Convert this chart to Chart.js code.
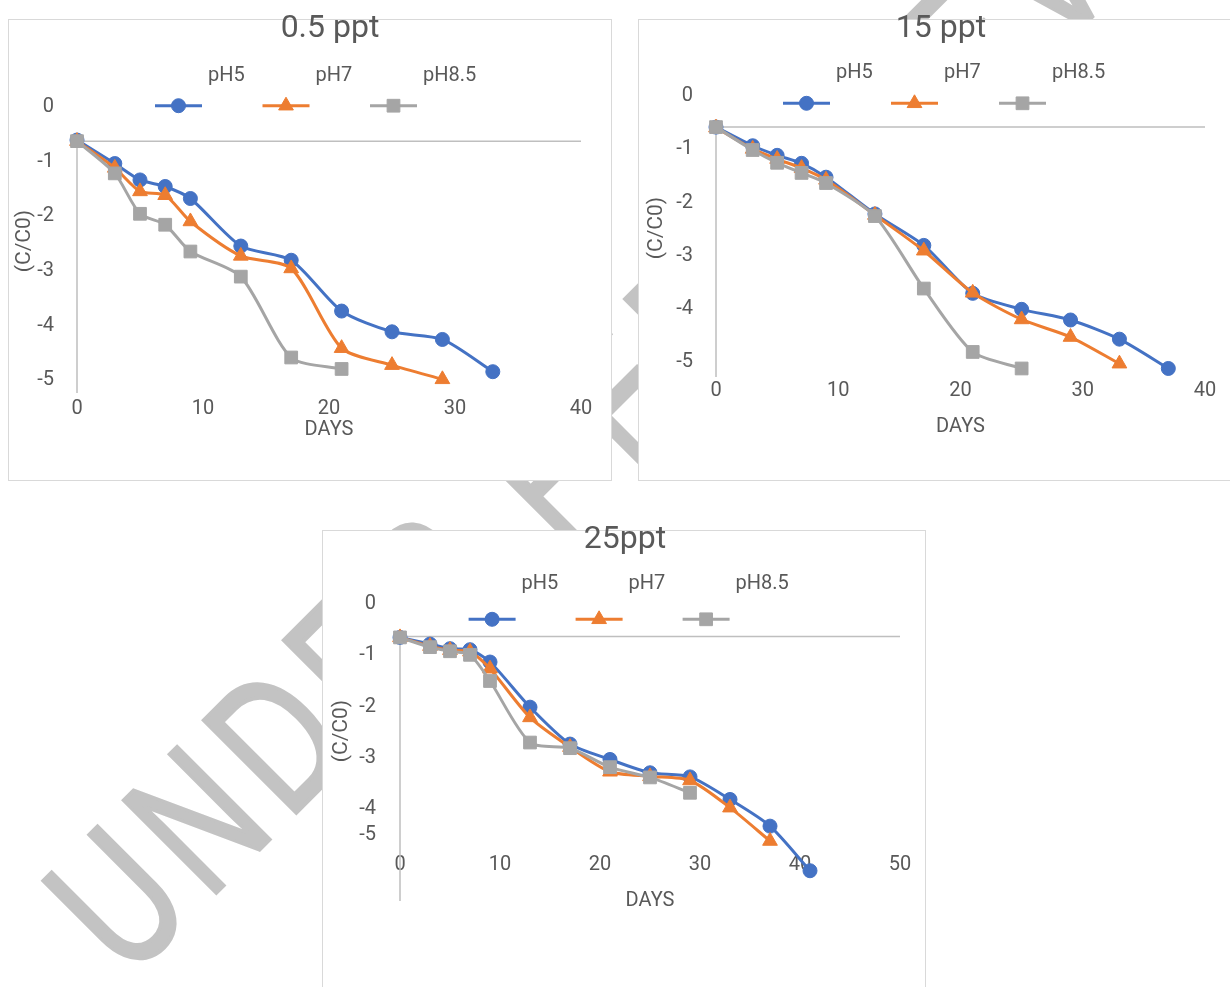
<!DOCTYPE html>
<html>
<head>
<meta charset="utf-8">
<script src="https://cdn.jsdelivr.net/npm/chart.js"></script>
<style>
  html, body { margin: 0; padding: 0; background: #fff; }
  body { width: 1230px; height: 987px; overflow: hidden; position: relative; }
  .wm {
    position: absolute; left: 128px; top: 820px;
    font: 400 190px "Liberation Sans", sans-serif; line-height: 1;
    color: #C3C3C3; -webkit-text-stroke: 4px #C3C3C3;
    white-space: nowrap; letter-spacing: 20px;
    transform-origin: 0 161px; transform: rotate(-45deg) scaleX(0.72);
  }
  .cv { position: absolute; }
</style>
</head>
<body>
<div class="wm">UNDER PEER REVIEW</div>
<div class="cv" style="left:0;top:0;width:620px;height:490px"><canvas id="c05"></canvas></div>
<div class="cv" style="left:630px;top:0;width:600px;height:490px"><canvas id="c15"></canvas></div>
<div class="cv" style="left:314px;top:511px;width:620px;height:476px"><canvas id="c25"></canvas></div>
<script>
// sampling days, shared by every series (series i uses days[0..n-1])
var days = [0, 3, 5, 7, 9, 13, 17, 21, 25, 29, 33, 37, 41];
var seriesNames = ['pH5', 'pH7', 'pH8.5'];

// 0.5 ppt
var ppt05_pH5  = [-0.66, -1.09, -1.39, -1.51, -1.73, -2.60, -2.86, -3.79, -4.17, -4.31, -4.90];
var ppt05_pH7  = [-0.68, -1.17, -1.60, -1.67, -2.15, -2.78, -3.01, -4.47, -4.78, -5.04];
var ppt05_pH85 = [-0.68, -1.27, -2.01, -2.21, -2.70, -3.16, -4.64, -4.85];

// 15 ppt
var ppt15_pH5  = [-0.64, -0.99, -1.17, -1.32, -1.58, -2.27, -2.86, -3.76, -4.06, -4.26, -4.62, -5.17];
var ppt15_pH7  = [-0.65, -1.05, -1.24, -1.41, -1.63, -2.29, -2.96, -3.75, -4.25, -4.58, -5.08];
var ppt15_pH85 = [-0.64, -1.07, -1.31, -1.50, -1.69, -2.31, -3.67, -4.86, -5.17];

// 25 ppt
var ppt25_pH5  = [-0.71, -0.84, -0.93, -0.95, -1.19, -2.07, -2.79, -3.09, -3.35, -3.43, -3.87, -4.39, -5.26];
var ppt25_pH7  = [-0.71, -0.88, -0.96, -0.99, -1.32, -2.27, -2.85, -3.33, -3.42, -3.50, -4.03, -4.68];
var ppt25_pH85 = [-0.71, -0.90, -0.98, -1.05, -1.56, -2.76, -2.87, -3.24, -3.44, -3.74];

var xTicks40 = [0, 10, 20, 30, 40];
var xTicks50 = [0, 10, 20, 30, 40, 50];
var yTicks = [0, -1, -2, -3, -4, -5];
var yTickLabels = ['0', '-1', '-2', '-3', '-4', '-5'];
// in the 25ppt panel the "-5" label sits squeezed up above the day labels
var yTicks25 = [0, -1, -2, -3, -4, -4.5];

var FONT = 'Roboto, "Liberation Sans", sans-serif';
var TEXT = '#595959';
var AXIS = '#BFBFBF';
var colors = ['#4472C4', '#ED7D31', '#A5A5A5'];
var markers = [
  { style: 'circle', r: 7 },
  { style: 'triangle', r: 8.5 },
  { style: 'rect', r: 9 }
];

function drawMarker(ctx, style, x, y, r, color) {
  ctx.fillStyle = color;
  ctx.strokeStyle = color;
  ctx.lineWidth = 1;
  ctx.beginPath();
  if (style === 'circle') {
    ctx.arc(x, y, r, 0, Math.PI * 2);
  } else if (style === 'triangle') {
    ctx.moveTo(x, y - r);
    ctx.lineTo(x + r * 0.866, y + r * 0.5);
    ctx.lineTo(x - r * 0.866, y + r * 0.5);
    ctx.closePath();
  } else {
    var s = r * Math.SQRT1_2;
    ctx.rect(x - s, y - s, 2 * s, 2 * s);
  }
  ctx.fill();
  ctx.stroke();
}

function makeChart(id, c) {
  var datasets = c.series.map(function (vals, i) {
    return {
      label: seriesNames[i],
      data: vals.map(function (v, k) { return { x: days[k], y: v }; }),
      borderColor: colors[i],
      backgroundColor: colors[i],
      borderWidth: 3,
      tension: 0.25,
      pointStyle: markers[i].style,
      pointRadius: markers[i].r,
      pointHoverRadius: markers[i].r,
      pointBorderWidth: 1,
      clip: false,
      order: 2 - i
    };
  });

  var frame = {
    id: 'frame',
    beforeDraw: function (chart) {
      var ctx = chart.ctx, b = c.box;
      ctx.save();
      ctx.fillStyle = '#fff';
      ctx.fillRect(b[0], b[1], b[2], b[3]);
      ctx.strokeStyle = '#D9D9D9';
      ctx.lineWidth = 1;
      ctx.strokeRect(b[0] + 0.5, b[1] + 0.5, b[2], b[3]);
      ctx.restore();
    },
    beforeDatasetsDraw: function (chart) {
      // horizontal axis crosses at c.crossY, vertical axis at day 0
      var ctx = chart.ctx, xs = chart.scales.x, ys = chart.scales.y;
      var yc = ys.getPixelForValue(c.crossY);
      var x0 = xs.getPixelForValue(0);
      ctx.save();
      ctx.strokeStyle = AXIS;
      ctx.lineWidth = 1.5;
      ctx.beginPath();
      ctx.moveTo(x0, yc);
      ctx.lineTo(xs.getPixelForValue(xs.max), yc);
      ctx.moveTo(x0, yc);
      ctx.lineTo(x0, chart.chartArea.bottom);
      ctx.stroke();
      ctx.restore();
    },
    afterDraw: function (chart) {
      var ctx = chart.ctx;
      ctx.save();
      ctx.fillStyle = TEXT;
      ctx.textAlign = 'center';
      ctx.textBaseline = 'alphabetic';
      ctx.font = '32px ' + FONT;
      ctx.fillText(c.title, c.titleX, c.titleY);

      // y axis title, rotated
      ctx.save();
      ctx.translate(c.yTitle[0], c.yTitle[1]);
      ctx.rotate(-Math.PI / 2);
      ctx.textBaseline = 'middle';
      ctx.font = '21px ' + FONT;
      ctx.fillText('(C/C0)', 0, 0);
      ctx.restore();

      // legend: text sits above the line sample
      for (var i = 0; i < seriesNames.length; i++) {
        var lx = c.legX + i * c.legGap;
        ctx.strokeStyle = colors[i];
        ctx.lineWidth = 3;
        ctx.beginPath();
        ctx.moveTo(lx, c.legLineY);
        ctx.lineTo(lx + 47, c.legLineY);
        ctx.stroke();
        drawMarker(ctx, markers[i].style, lx + 23.5, c.legLineY, markers[i].r, colors[i]);
        ctx.fillStyle = TEXT;
        ctx.textAlign = 'left';
        ctx.textBaseline = 'alphabetic';
        ctx.font = '20px ' + FONT;
        ctx.fillText(seriesNames[i], lx + 53, c.legTextY);
      }
      ctx.restore();
    }
  };

  return new Chart(document.getElementById(id), {
    type: 'line',
    data: { datasets: datasets },
    options: {
      responsive: true,
      maintainAspectRatio: false,
      animation: false,
      events: [],
      layout: { padding: c.pad },
      plugins: { legend: { display: false }, title: { display: false }, tooltip: { enabled: false } },
      scales: {
        x: {
          type: 'linear',
          position: c.xPos,
          min: 0,
          max: c.xMax,
          afterBuildTicks: function (s) { s.ticks = c.xTicks.map(function (v) { return { value: v }; }); },
          afterFit: function (s) { s.height = c.xH; },
          grid: { display: false, drawTicks: false },
          border: { display: false },
          ticks: { color: TEXT, font: { family: FONT, size: 20 }, padding: c.xPad, maxRotation: 0, autoSkip: false },
          title: { display: true, text: 'DAYS', color: TEXT, font: { family: FONT, size: 20 }, padding: { top: 0, bottom: 0 } }
        },
        y: {
          min: c.yMin,
          max: 0,
          afterBuildTicks: function (s) { s.ticks = c.yTicks.map(function (v) { return { value: v }; }); },
          afterFit: function (s) { s.width = c.yW; },
          grid: { display: false, drawTicks: false },
          border: { display: false },
          ticks: {
            color: TEXT, font: { family: FONT, size: 20 }, padding: c.yPad, autoSkip: false, labelOffset: 3,
            callback: function (v, i) { return yTickLabels[i]; }
          },
          title: { display: false }
        }
      }
    },
    plugins: [frame]
  });
}

makeChart('c05', {
  title: '0.5 ppt', titleX: 330, titleY: 37,
  series: [ppt05_pH5, ppt05_pH7, ppt05_pH85],
  box: [8, 19, 603, 461],
  pad: { left: 9, right: 39, top: 104, bottom: 48 },
  xPos: 'bottom', xMax: 40, xTicks: xTicks40, xH: 49, xPad: 4,
  yMin: -5.29, yTicks: yTicks, yW: 68, yPad: 23, yTitle: [25, 241],
  crossY: -0.68,
  legX: 155, legGap: 107.5, legLineY: 105.7, legTextY: 81
});

makeChart('c15', {
  title: '15 ppt', titleX: 311, titleY: 37,
  series: [ppt15_pH5, ppt15_pH7, ppt15_pH85],
  box: [8, 19, 603, 461],
  pad: { left: 9, right: 25, top: 93, bottom: 51 },
  xPos: 'bottom', xMax: 40, xTicks: xTicks40, xH: 62, xPad: 2,
  yMin: -5.33, yTicks: yTicks, yW: 77, yPad: 23, yTitle: [27, 228],
  crossY: -0.64,
  legX: 153, legGap: 108, legLineY: 103.3, legTextY: 77.5
});

// here the day labels sit inside the plot, above the end of the vertical axis
makeChart('c25', {
  title: '25ppt', titleX: 311, titleY: 37,
  series: [ppt25_pH5, ppt25_pH7, ppt25_pH85],
  box: [8, 19, 603, 461],
  pad: { left: 9, right: 34, top: 90, bottom: 86 },
  xPos: { y: -4.91 }, xMax: 50, xTicks: xTicks50, xH: 60, xPad: 0,
  yMin: -5.85, yTicks: yTicks25, yW: 77, yPad: 24, yTitle: [28, 220],
  crossY: -0.69,
  legX: 154.6, legGap: 107, legLineY: 108.3, legTextY: 78
});
</script>
</body>
</html>
